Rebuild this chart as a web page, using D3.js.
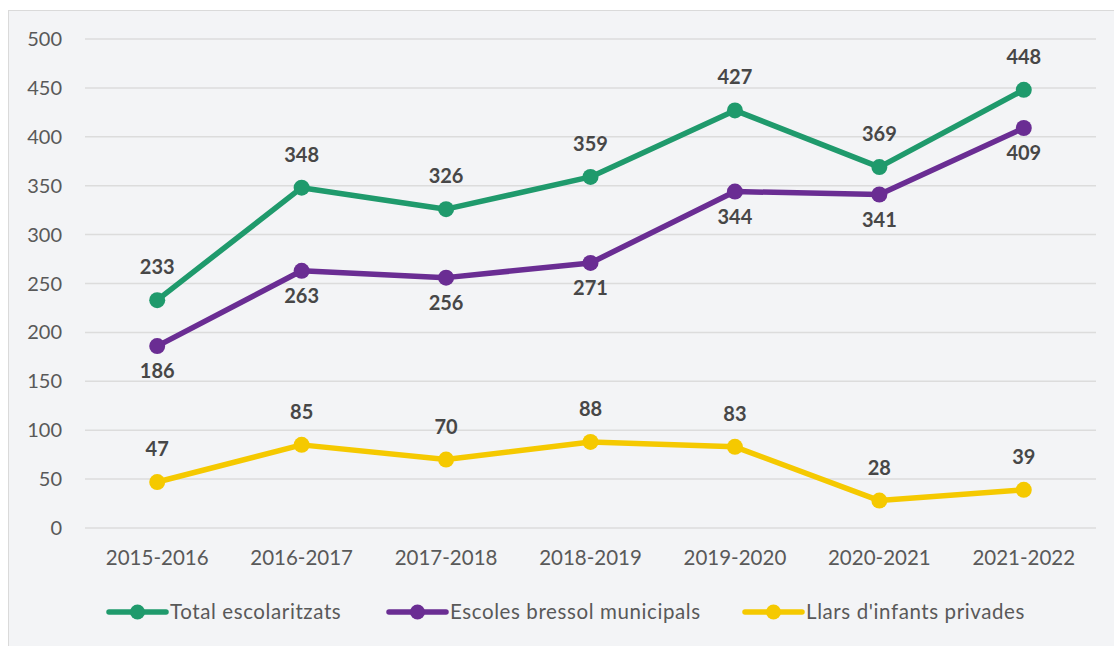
<!DOCTYPE html>
<html>
<head>
  <meta charset="utf-8">
  <script src="https://cdn.jsdelivr.net/npm/d3@7"></script>
  <style>
    body { margin: 0; background: #fff; }
    text { font-family: Lato, "Open Sans", sans-serif; }
  </style>
</head>
<body>
  <div id="chart"></div>
  <script>
    const categories = ["2015-2016", "2016-2017", "2017-2018", "2018-2019", "2019-2020", "2020-2021", "2021-2022"]
    const seriesNames = ["Total escolaritzats", "Escoles bressol municipals", "Llars d'infants privades"]
    const total = [233, 348, 326, 359, 427, 369, 448]
    const municipals = [186, 263, 256, 271, 344, 341, 409]
    const privades = [47, 85, 70, 88, 83, 28, 39]
    const yTicks = [0, 50, 100, 150, 200, 250, 300, 350, 400, 450, 500]

    const colors = ["#1f9a6c", "#6a2d93", "#f5c900"]
    const labelSide = [-1, 1, -1]   // -1 above, 1 below

    const width = 1114
    const height = 646

    const svg = d3.select("#chart").append("svg")
      .attr("width", width)
      .attr("height", height)

    // chart frame
    svg.append("rect")
      .attr("x", 8.5).attr("y", 10.5)
      .attr("width", width + 20).attr("height", height + 20)
      .attr("fill", "#f3f4f6")
      .attr("stroke", "#dadada")

    const x = d3.scaleBand().domain(categories).range([85, 1096])
    const y = d3.scaleLinear().domain([0, 500]).range([528, 39])

    // gridlines
    svg.append("g")
      .selectAll("line")
      .data(yTicks)
      .enter()
      .append("line")
      .attr("x1", 85).attr("x2", 1096)
      .attr("y1", d => y(d)).attr("y2", d => y(d))
      .attr("stroke", "#dcdcdc")
      .attr("stroke-width", 1.5)

    // y axis labels
    svg.append("g")
      .selectAll("text")
      .data(yTicks)
      .enter()
      .append("text")
      .attr("x", 62)
      .attr("y", d => y(d))
      .attr("dy", "0.35em")
      .attr("text-anchor", "end")
      .attr("font-size", 20)
      .attr("fill", "#595959")
      .text(d => d)

    // x axis labels
    svg.append("g")
      .selectAll("text")
      .data(categories)
      .enter()
      .append("text")
      .attr("x", d => x(d) + x.bandwidth() / 2)
      .attr("y", 558)
      .attr("dy", "0.35em")
      .attr("text-anchor", "middle")
      .attr("font-size", 20.5)
      .attr("fill", "#595959")
      .text(d => d)

    const series = [total, municipals, privades]
    const cx = (d, i) => x(categories[i]) + x.bandwidth() / 2

    const line = d3.line()
      .x((d, i) => cx(d, i))
      .y(d => y(d))

    series.forEach((values, s) => {
      const g = svg.append("g")
      g.append("path")
        .datum(values)
        .attr("d", line)
        .attr("fill", "none")
        .attr("stroke", colors[s])
        .attr("stroke-width", 5.5)
        .attr("stroke-linejoin", "round")
        .attr("stroke-linecap", "round")

      g.selectAll("circle")
        .data(values)
        .enter()
        .append("circle")
        .attr("cx", cx)
        .attr("cy", d => y(d))
        .attr("r", 8)
        .attr("fill", colors[s])

      g.selectAll("text")
        .data(values)
        .enter()
        .append("text")
        .attr("x", cx)
        .attr("y", d => y(d) + (labelSide[s] < 0 ? -33 : 25))
        .attr("dy", "0.35em")
        .attr("text-anchor", "middle")
        .attr("font-size", 20)
        .attr("font-weight", "bold")
        .attr("fill", "#474747")
        .text(d => d)
    })

    // legend
    const legendX = [109, 389, 745]
    const legend = svg.append("g")
      .selectAll("g")
      .data(seriesNames)
      .enter()
      .append("g")
      .attr("transform", (d, i) => `translate(${legendX[i]},612)`)

    legend.append("line")
      .attr("x1", 0).attr("x2", 57)
      .attr("stroke", (d, i) => colors[i])
      .attr("stroke-width", 5.5)
      .attr("stroke-linecap", "round")
    legend.append("circle")
      .attr("cx", 28.5)
      .attr("r", 7.5)
      .attr("fill", (d, i) => colors[i])
    legend.append("text")
      .attr("x", 61)
      .attr("dy", "0.35em")
      .attr("font-size", 20.5)
      .attr("letter-spacing", 0.6)
      .attr("fill", "#595959")
      .text(d => d)
  </script>
</body>
</html>
